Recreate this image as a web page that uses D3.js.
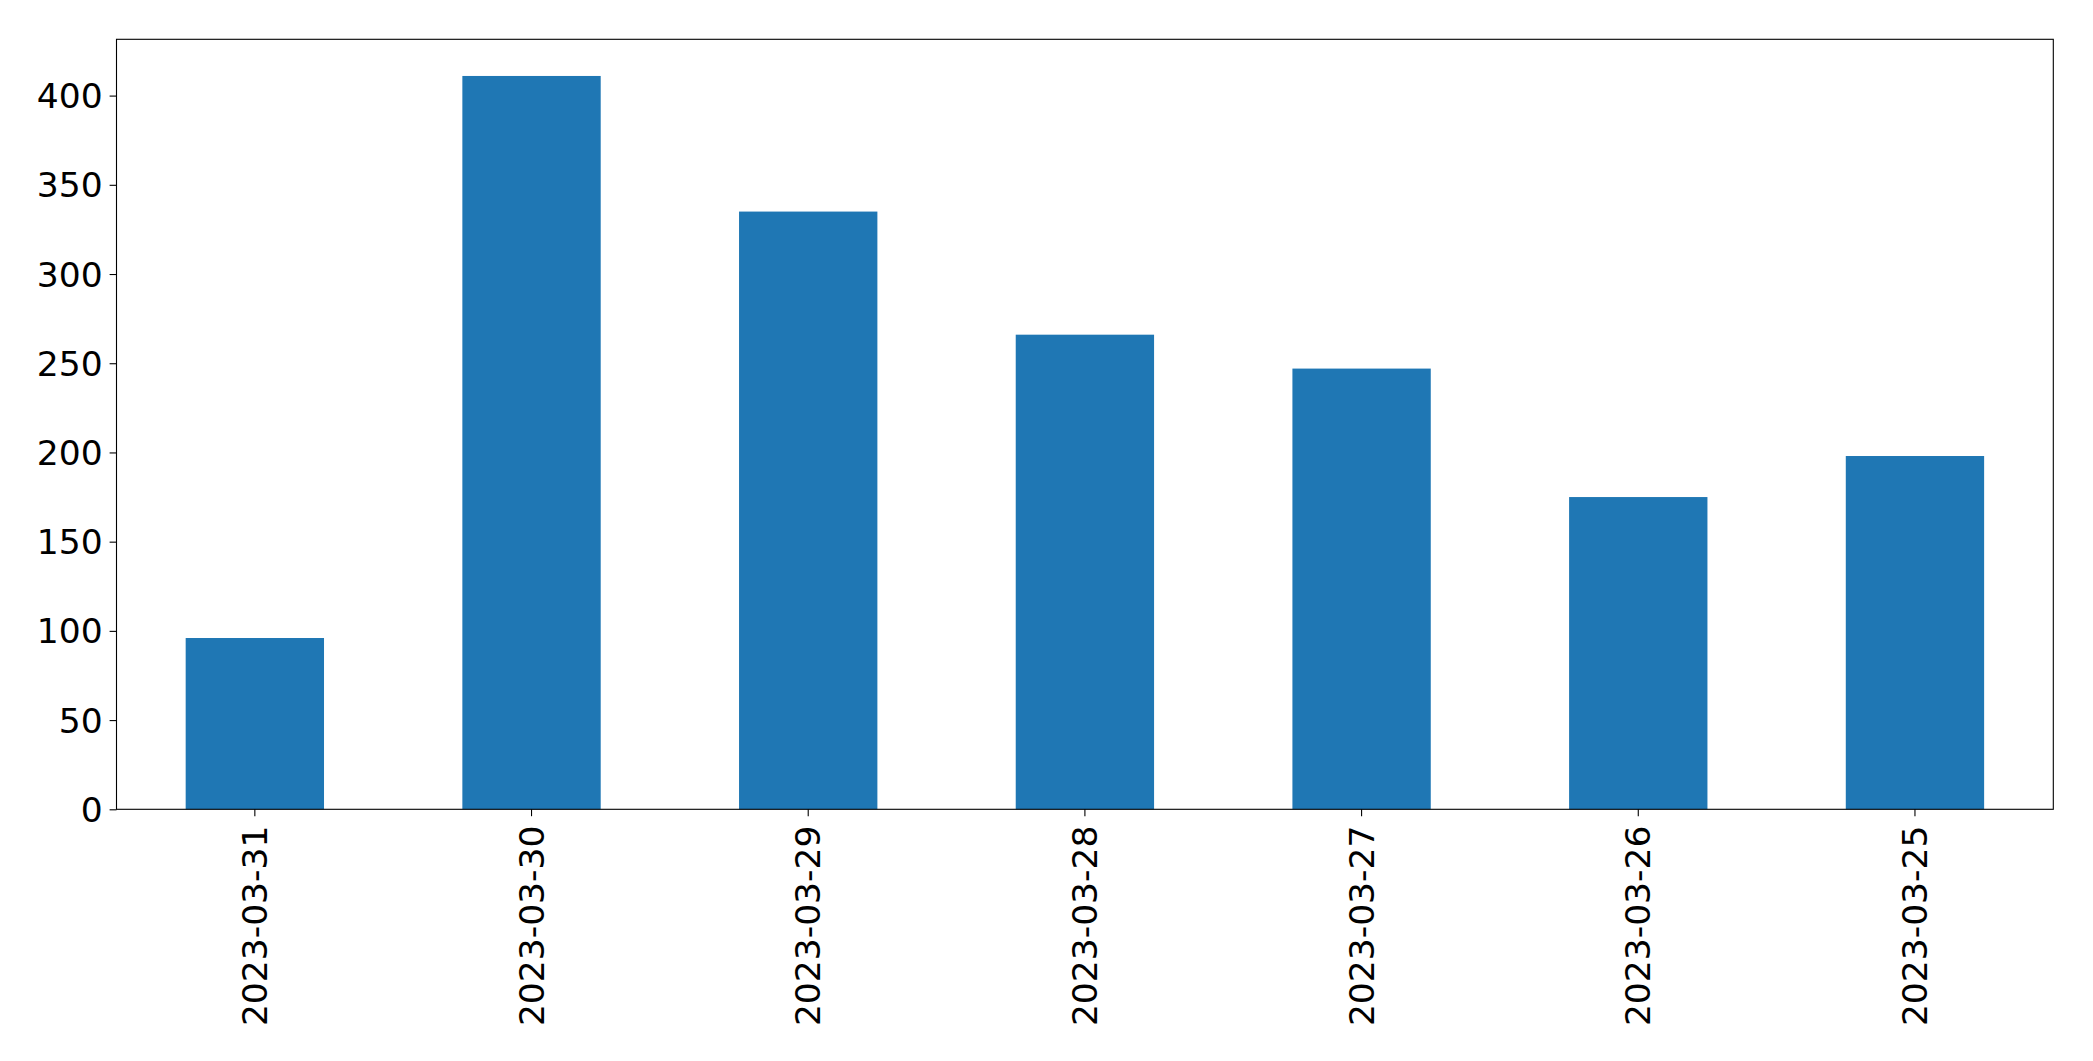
<!DOCTYPE html>
<html>
<head>
<meta charset="utf-8">
<script src="https://cdn.jsdelivr.net/npm/d3@7"></script>
<style>
  html, body { margin: 0; padding: 0; background: #fff; }
  svg { display: block; }
  text { font-family: "DejaVu Sans", sans-serif; fill: #000; }
</style>
</head>
<body>
<script>
const categories = ["2023-03-31", "2023-03-30", "2023-03-29", "2023-03-28", "2023-03-27", "2023-03-26", "2023-03-25"];
const values = [96, 411, 335, 266, 247, 175, 198];
const yTicks = [0, 50, 100, 150, 200, 250, 300, 350, 400];

const W = 2093, H = 1061;
const plotLeft = 116.5, plotRight = 2053.3, plotTop = 39.3, plotBottom = 809.3;
const fontSize = 34.5;

const svg = d3.select("body").append("svg").attr("width", W).attr("height", H);

const x = d3.scaleBand().domain(categories).range([plotLeft, plotRight]).paddingInner(0.5).paddingOuter(0.25);
const y = d3.scaleLinear().domain([0, d3.max(values) * 1.05]).range([plotBottom, plotTop]);

svg.append("g").selectAll("rect").data(values).join("rect")
  .attr("x", (d, i) => x(categories[i]))
  .attr("width", x.bandwidth())
  .attr("y", d => y(d))
  .attr("height", d => y(0) - y(d))
  .attr("fill", "#1f77b4");

// Y axis
const yAxis = svg.append("g").attr("transform", `translate(${plotLeft},0)`)
  .call(d3.axisLeft(y).tickValues(yTicks).tickSize(6.9).tickPadding(6.9).tickFormat(d3.format("d")));
yAxis.select(".domain").remove();
yAxis.selectAll("line").attr("stroke", "#000").attr("stroke-width", 1.1);
yAxis.selectAll("text").attr("font-size", fontSize).attr("font-family", "DejaVu Sans").attr("dy", "0.35em");

// X axis
const xAxis = svg.append("g").attr("transform", `translate(0,${plotBottom})`)
  .call(d3.axisBottom(x).tickSize(6.9).tickPadding(6.9));
xAxis.select(".domain").remove();
xAxis.selectAll("line").attr("stroke", "#000").attr("stroke-width", 1.1);
xAxis.selectAll("text")
  .attr("font-size", fontSize)
  .attr("font-family", "DejaVu Sans")
  .attr("text-anchor", "end")
  .attr("transform", "translate(0,16.3) rotate(-90)")
  .attr("x", 0).attr("y", 0).attr("dy", "0.35em");

// Frame
svg.append("rect")
  .attr("x", plotLeft).attr("y", plotTop)
  .attr("width", plotRight - plotLeft).attr("height", plotBottom - plotTop)
  .attr("fill", "none").attr("stroke", "#000").attr("stroke-width", 1.1);
</script>
</body>
</html>
